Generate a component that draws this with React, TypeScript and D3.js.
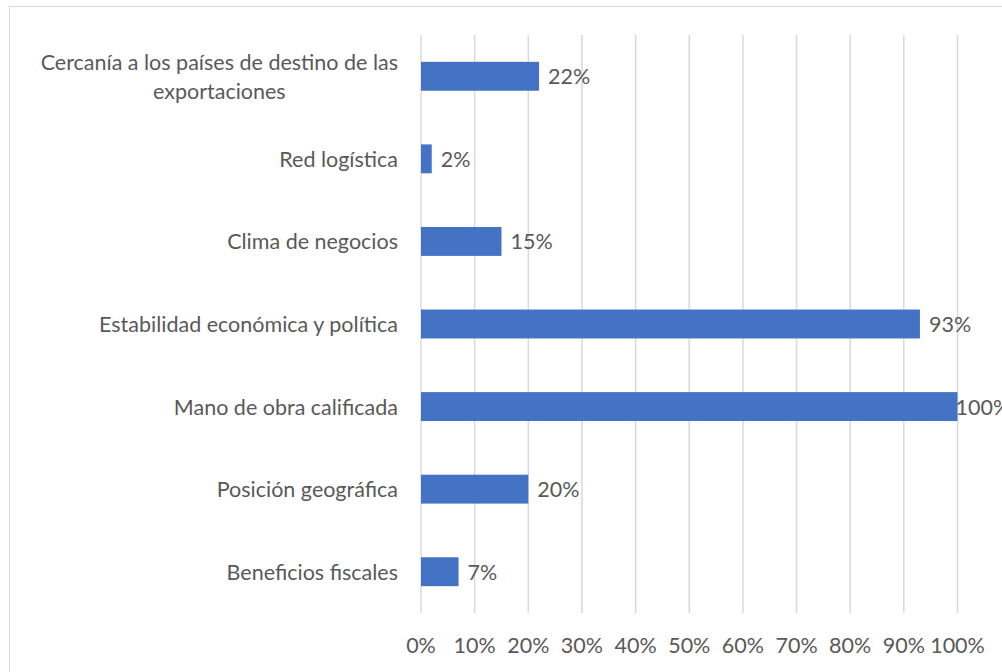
import React, { useEffect, useRef } from "react";
import * as d3 from "d3";

const categories = [
  "Cercanía a los países de destino de las exportaciones",
  "Red logística",
  "Clima de negocios",
  "Estabilidad económica y política",
  "Mano de obra calificada",
  "Posición geográfica",
  "Beneficios fiscales",
];
const values = [0.22, 0.02, 0.15, 0.93, 1.0, 0.2, 0.07];
const xTicks = [0, 0.1, 0.2, 0.3, 0.4, 0.5, 0.6, 0.7, 0.8, 0.9, 1.0];
const labelLines: Record<string, string[]> = {
  "Cercanía a los países de destino de las exportaciones": [
    "Cercanía a los países de destino de las",
    "exportaciones",
  ],
};

const W = 1002;
const H = 672;
const FONT = "Lato, 'Open Sans', sans-serif";
const FS = 21.5;
const TEXT = "#595959";

export default function App() {
  const ref = useRef<SVGSVGElement>(null);
  useEffect(() => {
    const svg = d3.select(ref.current);
    svg.selectAll("*").remove();
    const x = d3.scaleLinear().domain([0, 1]).range([421, 957.5]);
    const y = d3.scaleBand().domain(categories).range([35, 613]).paddingInner(0.65).paddingOuter(0.325);

    svg.append("rect").attr("x", 0).attr("y", 0).attr("width", W).attr("height", H).attr("fill", "#fff");
    svg.append("rect").attr("x", 9.5).attr("y", 6.5).attr("width", 1000).attr("height", 670)
      .attr("fill", "none").attr("stroke", "#d9d9d9").attr("stroke-width", 1);

    svg.append("g").selectAll("line").data(xTicks).join("line")
      .attr("x1", (d) => x(d)).attr("x2", (d) => x(d))
      .attr("y1", 35).attr("y2", 613)
      .attr("stroke", "#d9d9d9").attr("stroke-width", 1.5);

    svg.append("g").selectAll("text").data(xTicks).join("text")
      .attr("x", (d) => x(d)).attr("y", 645)
      .attr("text-anchor", "middle").attr("dominant-baseline", "central")
      .attr("font-family", FONT).attr("font-size", FS).attr("fill", TEXT)
      .text((d) => d3.format(".0%")(d));

    svg.append("g").selectAll("rect").data(categories).join("rect")
      .attr("x", x(0)).attr("y", (d) => y(d)!)
      .attr("width", (d, i) => x(values[i]) - x(0)).attr("height", y.bandwidth())
      .attr("fill", "#4472C4");

    svg.append("g").selectAll("text").data(categories).join("text")
      .attr("x", (d, i) => (values[i] >= 1 ? x(values[i]) - 2 : x(values[i]) + 9))
      .attr("y", (d) => y(d)! + y.bandwidth() / 2)
      .attr("dominant-baseline", "central")
      .attr("font-family", FONT).attr("font-size", FS).attr("fill", TEXT)
      .text((d, i) => d3.format(".0%")(values[i]));

    const lg = svg.append("g");
    categories.forEach((c) => {
      const lines = labelLines[c] || [c];
      const cy = y(c)! + y.bandwidth() / 2;
      const lh = 29;
      const g = lg.append("g");
      const texts = lines.map((l, i) =>
        g.append("text")
          .attr("y", cy + (i - (lines.length - 1) / 2) * lh)
          .attr("dominant-baseline", "central")
          .attr("text-anchor", "middle")
          .attr("font-family", FONT).attr("font-size", FS).attr("fill", TEXT)
          .text(l)
      );
      const widths = texts.map((t) => (t.node() as SVGTextElement).getComputedTextLength());
      const maxW = Math.max(...widths);
      const center = 398 - maxW / 2;
      texts.forEach((t) => t.attr("x", center));
    });
  }, []);
  return (
    <svg ref={ref} width={W} height={H} style={{ position: "absolute", left: 0, top: 0 }} />
  );
}
